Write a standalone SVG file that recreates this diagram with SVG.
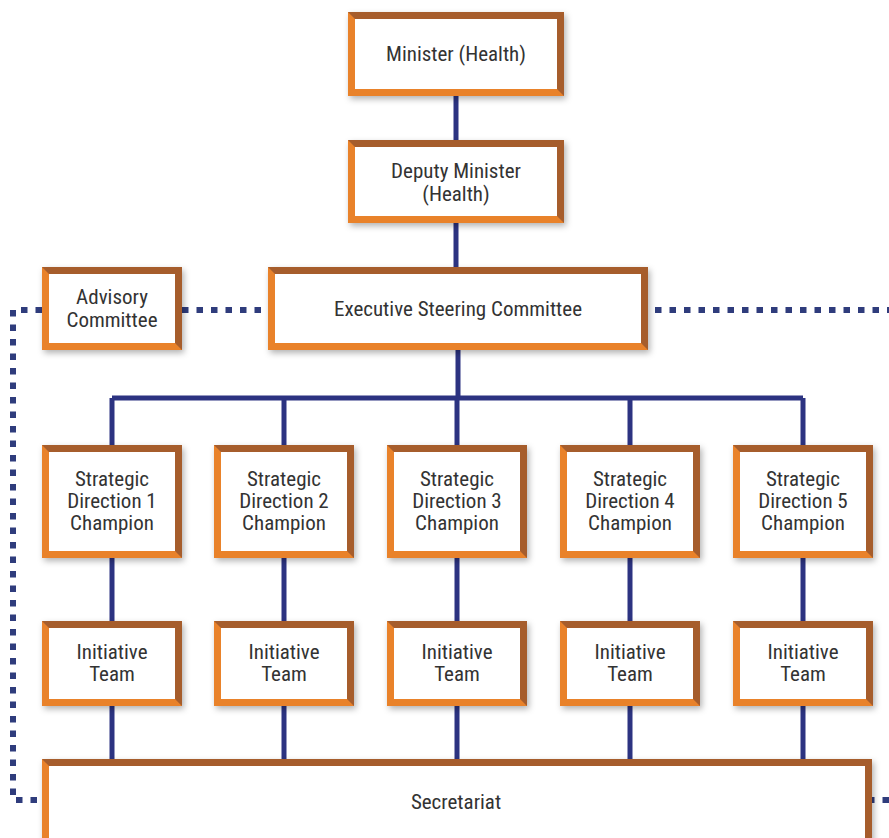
<svg xmlns="http://www.w3.org/2000/svg" width="889" height="838" viewBox="0 0 889 838">
<defs>
<filter id="sh" x="-10%" y="-10%" width="130%" height="140%">
<feDropShadow dx="2" dy="3" stdDeviation="3" flood-color="#000" flood-opacity="0.3"/>
</filter>
</defs>
<style>
.o{fill:#e9822b}
.b{fill:#a65d2c}
.w{fill:#ffffff}
.t{font-family:"Liberation Sans Narrow","Roboto Condensed","Liberation Sans",Arial,sans-serif;font-size:21px;fill:#333333;text-anchor:middle}
.ln{stroke:#2c3381;stroke-width:5;fill:none}
.dt{stroke:#2f3c7c;stroke-width:6;fill:none;stroke-dasharray:6.5 8}
</style>
<rect width="889" height="838" fill="#ffffff"/>
<g id="connectors">
<path class="ln" d="M456 95V142M456 222V270M458 350V398M112 398H803M112 398V446M284 398V446M457 398V446M630 398V446M803 398V446"/>
<path class="ln" d="M112 557V622M284 557V622M457 557V622M630 557V622M803 557V622M112 705V760M284 705V760M457 705V760M630 705V760M803 705V760"/>
<path class="dt" d="M182 310H268"/>
<path class="dt" d="M655 310H889"/>
<path class="dt" d="M42 310H13V800H42"/>
<path class="dt" d="M889 800H872"/>
</g>
<g id="minister">
<rect class="o" x="348" y="12" width="216" height="84" filter="url(#sh)"/>
<path class="b" d="M348 12H564V96L557 89V19H355Z"/>
<rect class="w" x="355" y="19" width="202" height="70"/>
<text class="t" x="456" y="61">Minister (Health)</text>
</g>
<g id="deputy">
<rect class="o" x="348" y="140" width="216" height="83" filter="url(#sh)"/>
<path class="b" d="M348 140H564V223L557 216V147H355Z"/>
<rect class="w" x="355" y="147" width="202" height="69"/>
<text class="t" x="456" y="178">Deputy Minister</text>
<text class="t" x="456" y="201">(Health)</text>
</g>
<g id="advisory">
<rect class="o" x="42" y="267" width="140" height="83" filter="url(#sh)"/>
<path class="b" d="M42 267H182V350L175 343V274H49Z"/>
<rect class="w" x="49" y="274" width="126" height="69"/>
<text class="t" x="112" y="304">Advisory</text>
<text class="t" x="112" y="327">Committee</text>
</g>
<g id="esc">
<rect class="o" x="268" y="267" width="380" height="83" filter="url(#sh)"/>
<path class="b" d="M268 267H648V350L641 343V274H275Z"/>
<rect class="w" x="275" y="274" width="366" height="69"/>
<text class="t" x="458" y="316">Executive Steering Committee</text>
</g>
<g id="sd1">
<rect class="o" x="42" y="445" width="140" height="113" filter="url(#sh)"/>
<path class="b" d="M42 445H182V558L175 551V452H49Z"/>
<rect class="w" x="49" y="452" width="126" height="99"/>
<text class="t" x="112" y="486">Strategic</text>
<text class="t" x="112" y="508">Direction 1</text>
<text class="t" x="112" y="530">Champion</text>
</g>
<g id="sd2">
<rect class="o" x="214" y="445" width="140" height="113" filter="url(#sh)"/>
<path class="b" d="M214 445H354V558L347 551V452H221Z"/>
<rect class="w" x="221" y="452" width="126" height="99"/>
<text class="t" x="284" y="486">Strategic</text>
<text class="t" x="284" y="508">Direction 2</text>
<text class="t" x="284" y="530">Champion</text>
</g>
<g id="sd3">
<rect class="o" x="387" y="445" width="140" height="113" filter="url(#sh)"/>
<path class="b" d="M387 445H527V558L520 551V452H394Z"/>
<rect class="w" x="394" y="452" width="126" height="99"/>
<text class="t" x="457" y="486">Strategic</text>
<text class="t" x="457" y="508">Direction 3</text>
<text class="t" x="457" y="530">Champion</text>
</g>
<g id="sd4">
<rect class="o" x="560" y="445" width="140" height="113" filter="url(#sh)"/>
<path class="b" d="M560 445H700V558L693 551V452H567Z"/>
<rect class="w" x="567" y="452" width="126" height="99"/>
<text class="t" x="630" y="486">Strategic</text>
<text class="t" x="630" y="508">Direction 4</text>
<text class="t" x="630" y="530">Champion</text>
</g>
<g id="sd5">
<rect class="o" x="733" y="445" width="140" height="113" filter="url(#sh)"/>
<path class="b" d="M733 445H873V558L866 551V452H740Z"/>
<rect class="w" x="740" y="452" width="126" height="99"/>
<text class="t" x="803" y="486">Strategic</text>
<text class="t" x="803" y="508">Direction 5</text>
<text class="t" x="803" y="530">Champion</text>
</g>
<g id="it1">
<rect class="o" x="42" y="621" width="140" height="85" filter="url(#sh)"/>
<path class="b" d="M42 621H182V706L175 699V628H49Z"/>
<rect class="w" x="49" y="628" width="126" height="71"/>
<text class="t" x="112" y="659">Initiative</text>
<text class="t" x="112" y="681">Team</text>
</g>
<g id="it2">
<rect class="o" x="214" y="621" width="140" height="85" filter="url(#sh)"/>
<path class="b" d="M214 621H354V706L347 699V628H221Z"/>
<rect class="w" x="221" y="628" width="126" height="71"/>
<text class="t" x="284" y="659">Initiative</text>
<text class="t" x="284" y="681">Team</text>
</g>
<g id="it3">
<rect class="o" x="387" y="621" width="140" height="85" filter="url(#sh)"/>
<path class="b" d="M387 621H527V706L520 699V628H394Z"/>
<rect class="w" x="394" y="628" width="126" height="71"/>
<text class="t" x="457" y="659">Initiative</text>
<text class="t" x="457" y="681">Team</text>
</g>
<g id="it4">
<rect class="o" x="560" y="621" width="140" height="85" filter="url(#sh)"/>
<path class="b" d="M560 621H700V706L693 699V628H567Z"/>
<rect class="w" x="567" y="628" width="126" height="71"/>
<text class="t" x="630" y="659">Initiative</text>
<text class="t" x="630" y="681">Team</text>
</g>
<g id="it5">
<rect class="o" x="733" y="621" width="140" height="85" filter="url(#sh)"/>
<path class="b" d="M733 621H873V706L866 699V628H740Z"/>
<rect class="w" x="740" y="628" width="126" height="71"/>
<text class="t" x="803" y="659">Initiative</text>
<text class="t" x="803" y="681">Team</text>
</g>
<g id="secretariat">
<rect class="o" x="42" y="759" width="830" height="90" filter="url(#sh)"/>
<path class="b" d="M42 759H872V849L865 842V766H49Z"/>
<rect class="w" x="49" y="766" width="816" height="76"/>
<text class="t" x="456" y="809">Secretariat</text>
</g>
</svg>
